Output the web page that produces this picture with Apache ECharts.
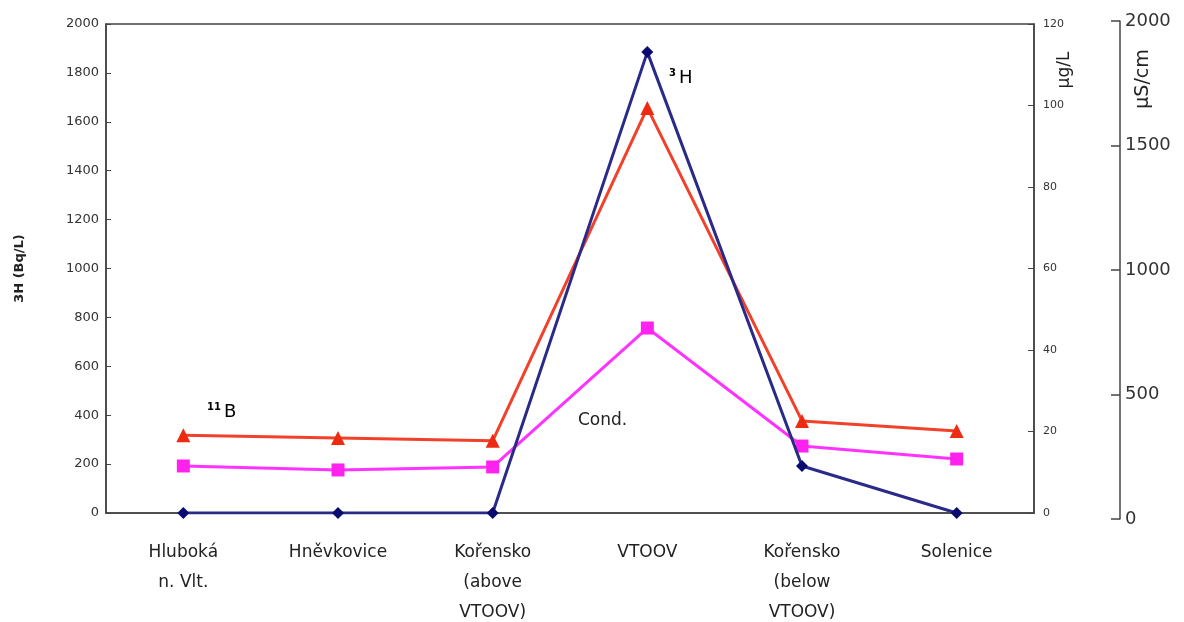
<!DOCTYPE html>
<html>
<head>
<meta charset="utf-8">
<script src="https://cdn.jsdelivr.net/npm/echarts@6/dist/echarts.min.js"></script>
<style>
html,body{margin:0;padding:0;background:#fff;}
#chart{width:1184px;height:622px;}
</style>
</head>
<body>
<div id="chart"></div>
<script>
const categories = ['Hluboká\nn. Vlt.', 'Hněvkovice', 'Kořensko\n(above\nVTOOV)', 'VTOOV', 'Kořensko\n(below\nVTOOV)', 'Solenice'];
const tritium = [0, 0, 0, 1885, 192, 0];        // Bq/L (left axis)
const boron = [19.1, 18.4, 17.7, 99.4, 22.6, 20.1]; // µg/L (right axis)
const conductivity = [213, 197, 209, 767, 293, 241]; // µS/cm (far right axis)
const leftTicks = [0, 2000, 200];
const boronTicks = [0, 120, 20];
const condTicks = [0, 2000, 500];

const FONT = 'DejaVu Sans';
const plain = v => String(v);
const chart = echarts.init(document.getElementById('chart'));
const option = {
  backgroundColor: '#fff',
  animation: false,
  grid: [
    {left: 106, right: 150, top: 24, bottom: 109, show: true, borderColor: '#444', borderWidth: 1.5, backgroundColor: 'transparent', outerBoundsMode: 'none', containLabel: false},
    {left: 106, right: 150, top: 21, bottom: 103, show: false, outerBoundsMode: 'none', containLabel: false}
  ],
  xAxis: [
    {type: 'category', gridIndex: 0, data: categories, boundaryGap: true,
     axisLine: {lineStyle: {color: '#444', width: 1.5}}, axisTick: {show: false},
     axisLabel: {interval: 0, margin: 25, color: '#222', fontFamily: FONT, fontSize: 17, lineHeight: 30, align: 'center'}},
    {type: 'category', gridIndex: 1, data: categories, show: false}
  ],
  yAxis: [
    {type: 'value', gridIndex: 0, min: leftTicks[0], max: leftTicks[1], interval: leftTicks[2], position: 'left',
     name: '3H (Bq/L)', nameLocation: 'middle', nameGap: 80,
     nameTextStyle: {fontFamily: FONT, fontSize: 13, fontWeight: 'bold', color: '#222'},
     axisLine: {show: true, lineStyle: {color: '#444', width: 1.5}},
     axisTick: {show: true, inside: true, length: 5, lineStyle: {color: '#444'}},
     axisLabel: {margin: 7, color: '#333', fontFamily: FONT, fontSize: 13, formatter: plain},
     splitLine: {show: false}},
    {type: 'value', gridIndex: 0, min: boronTicks[0], max: boronTicks[1], interval: boronTicks[2], position: 'right',
     axisLine: {show: true, lineStyle: {color: '#444', width: 1.5}},
     axisTick: {show: true, inside: true, length: 6, lineStyle: {color: '#444'}},
     axisLabel: {margin: 9, color: '#333', fontFamily: FONT, fontSize: 11, formatter: plain},
     splitLine: {show: false}},
    {type: 'value', gridIndex: 1, min: condTicks[0], max: condTicks[1], interval: condTicks[2], position: 'right', offset: 86,
     axisLine: {show: true, lineStyle: {color: '#444', width: 1.5}},
     axisTick: {show: true, inside: true, length: 9, lineStyle: {color: '#444', width: 1.5}},
     axisLabel: {margin: 5, color: '#333', fontFamily: FONT, fontSize: 18, formatter: plain},
     splitLine: {show: false}}
  ],
  series: [
    {name: 'Cond.', type: 'line', xAxisIndex: 1, yAxisIndex: 2, data: conductivity,
     symbol: 'rect', symbolSize: 13, lineStyle: {color: '#ff33ff', width: 3}, itemStyle: {color: '#ff22ee'}, z: 2},
    {name: '11B', type: 'line', xAxisIndex: 0, yAxisIndex: 1, data: boron,
     symbol: 'triangle', symbolSize: 14, lineStyle: {color: '#f2412a', width: 3}, itemStyle: {color: '#ee2a10'}, z: 3},
    {name: '3H', type: 'line', xAxisIndex: 0, yAxisIndex: 0, data: tritium,
     symbol: 'diamond', symbolSize: 12, lineStyle: {color: '#2a2a88', width: 3}, itemStyle: {color: '#0a0a70'}, z: 4}
  ],
  graphic: [
    {type: 'text', left: 207, top: 402, style: {text: '{s|11}{b|B}', rich: {s: {fontFamily: FONT, fontSize: 10, fontWeight: 'bold', color: '#222', padding: [0, 3, 10, 0]}, b: {fontFamily: FONT, fontSize: 18, color: '#222'}}}},
    {type: 'text', left: 669, top: 68, style: {text: '{s|3}{b|H}', rich: {s: {fontFamily: FONT, fontSize: 10, fontWeight: 'bold', color: '#222', padding: [0, 3, 10, 0]}, b: {fontFamily: FONT, fontSize: 18, color: '#222'}}}},
    {type: 'text', left: 578, top: 412, style: {text: 'Cond.', fontFamily: FONT, fontSize: 17, fill: '#222'}},
    {type: 'text', x: 1065, y: 70, rotation: Math.PI / 2, style: {text: 'µg/L', fontFamily: FONT, fontSize: 17, fill: '#222', align: 'center', verticalAlign: 'middle'}},
    {type: 'text', x: 1143, y: 79, rotation: Math.PI / 2, style: {text: 'µS/cm', fontFamily: FONT, fontSize: 19, fill: '#222', align: 'center', verticalAlign: 'middle'}}
  ]
};
chart.setOption(option);
</script>
</body>
</html>
